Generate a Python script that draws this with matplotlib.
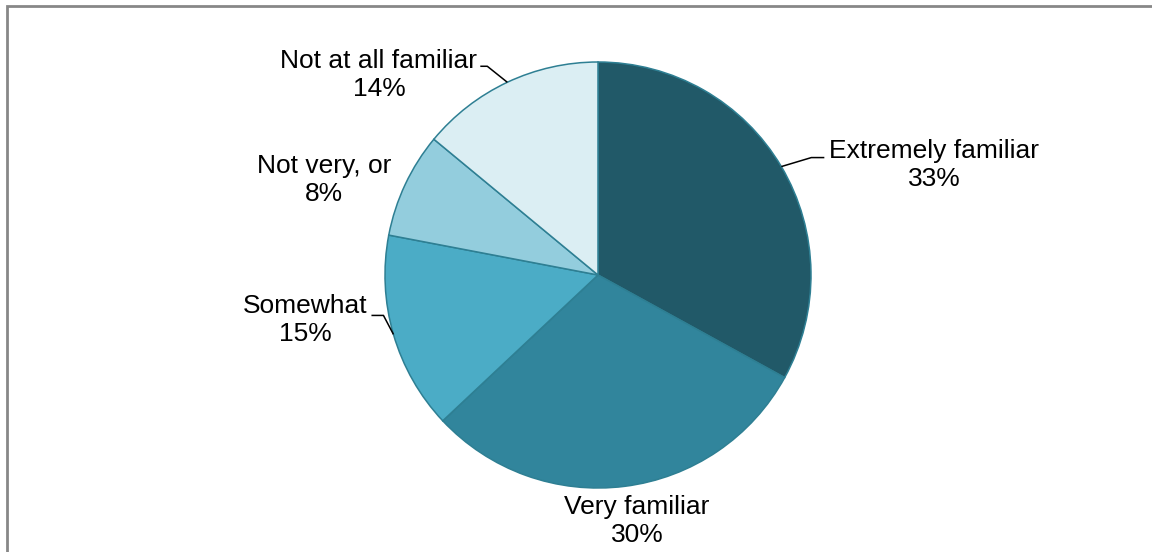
import numpy as np
import matplotlib
matplotlib.use('Agg')
import matplotlib.pyplot as plt
from matplotlib.patches import Rectangle

# data
categories = ['Extremely familiar', 'Very familiar', 'Somewhat', 'Not very, or', 'Not at all familiar']
shares = [33, 30, 15, 8, 14]
colors = ['#215968', '#31859C', '#4BACC6', '#93CDDD', '#DBEEF3']

plt.rcParams['font.family'] = ['Liberation Sans', 'DejaVu Sans']

W, H = 1152, 552
fig = plt.figure(figsize=(W / 100, H / 100), dpi=100)
ax = fig.add_axes([0, 0, 1, 1])
ax.set_xlim(0, W)
ax.set_ylim(0, H)
ax.set_aspect('equal')
ax.axis('off')

# pie in pixel units (y up)
cx, cy, r = 598, 277, 213
wedges, _ = ax.pie(shares, colors=colors, startangle=90, counterclock=False,
                   center=(cx, cy), radius=r, frame=True,
                   wedgeprops=dict(edgecolor='#2E7F93', linewidth=1.1))
ax.set_xlim(0, W)
ax.set_ylim(0, H)
ax.axis('off')

# label box centres and optional leader line (elbow offset, end offset)
label_pos = {
    'Extremely familiar': ((934, 387), ((30, 9), (43, 9))),
    'Very familiar': ((637, 31), None),
    'Somewhat': ((305, 232), ((-10, 19), (-22, 19))),
    'Not very, or': ((324, 372), None),
    'Not at all familiar': ((379, 477), ((-20, 16), (-27, 16))),
}

for w, cat, val in zip(wedges, categories, shares):
    (tx, ty), leader = label_pos[cat]
    ax.text(tx, ty, f'{cat}\n{val}%', ha='center', va='center',
            fontsize=19, color='black', linespacing=1.2)
    if leader is not None:
        mid = np.deg2rad((w.theta1 + w.theta2) / 2)
        px, py = cx + r * np.cos(mid), cy + r * np.sin(mid)
        (ex, ey), (fx, fy) = leader
        ax.plot([px, px + ex, px + fx], [py, py + ey, py + fy],
                color='black', lw=1.1, solid_capstyle='butt')

# outer frame (cropped on right/bottom)
fig.add_artist(Rectangle((7 / W, -0.2), 1.3, 1.2 - 6 / H, transform=fig.transFigure,
                         fill=False, edgecolor='#878787', linewidth=2, clip_on=False))

fig.savefig('out.png', dpi=100, facecolor='white')
